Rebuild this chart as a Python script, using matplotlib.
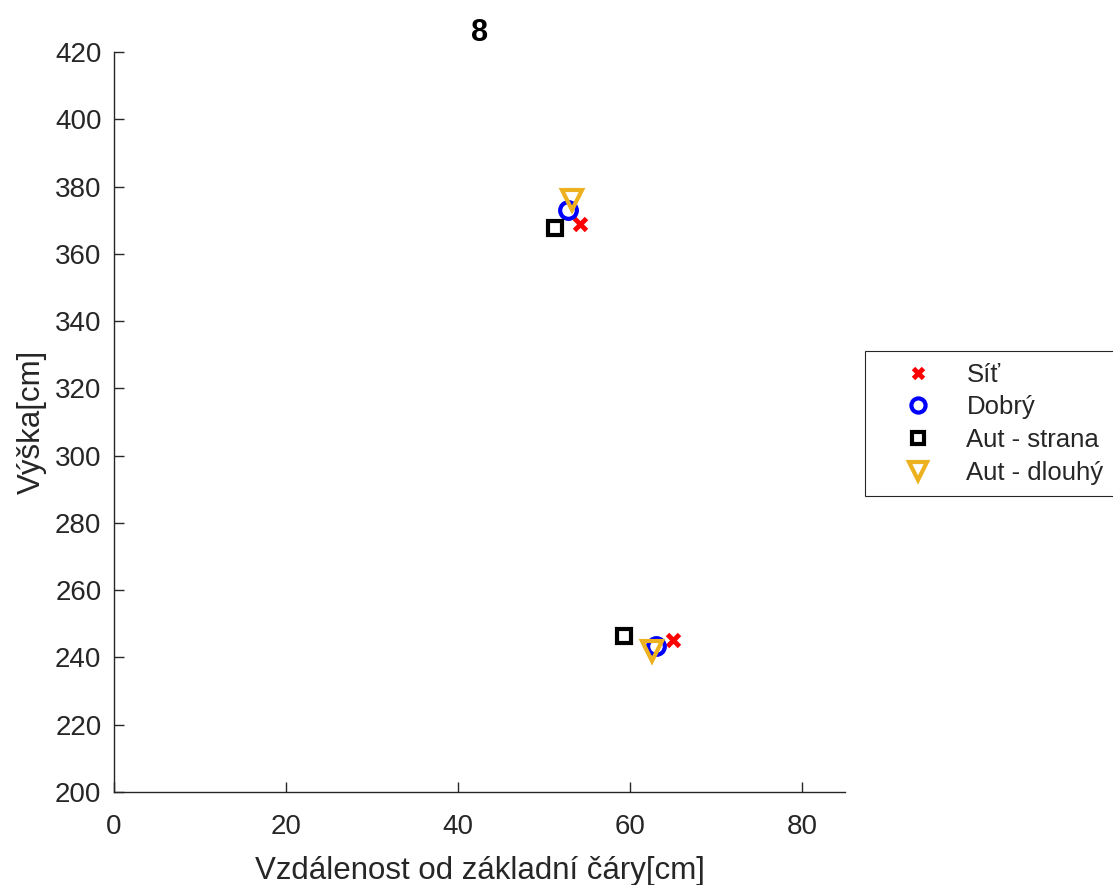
import matplotlib
matplotlib.use("Agg")
import matplotlib.pyplot as plt

plt.rcParams['font.family'] = ['Liberation Sans', 'DejaVu Sans']

# --- data ---
labels = ["Síť", "Dobrý", "Aut - strana", "Aut - dlouhý"]
sit_x = [54.2, 65.0]
sit_y = [368.8, 245.3]
dobry_x = [52.8, 63.0]
dobry_y = [373.0, 243.3]
strana_x = [51.3, 59.3]
strana_y = [367.8, 246.3]
dlouhy_x = [53.2, 62.5]
dlouhy_y = [376.0, 242.0]

AX_COL = "#262626"
GOLD = "#EDB120"

fig = plt.figure(figsize=(11.13, 8.85), dpi=100)
ax = fig.add_axes([114 / 1113, 1 - 792 / 885, (845 - 114) / 1113, (792 - 52) / 885])

ax.plot(sit_x, sit_y, ls="none", marker="x", color="red", ms=9, mew=3.5, label=labels[0])
ax.plot(dobry_x, dobry_y, ls="none", marker="o", mfc="none", mec="blue", ms=12, mew=3, label=labels[1])
ax.plot(strana_x, strana_y, ls="none", marker="s", mfc="none", mec="black", ms=10, mew=3, label=labels[2])
ax.plot(dlouhy_x, dlouhy_y, ls="none", marker="v", mfc="none", mec=GOLD, ms=15, mew=3, label=labels[3])

ax.set_xlim(0, 85)
ax.set_ylim(200, 420)
ax.set_xticks([0, 20, 40, 60, 80])
ax.set_yticks(range(200, 421, 20))

for s in ["top", "right"]:
    ax.spines[s].set_visible(False)
for s in ["left", "bottom"]:
    ax.spines[s].set_color(AX_COL)
    ax.spines[s].set_linewidth(1.0)
ax.tick_params(direction="in", length=7, width=1, colors=AX_COL, labelsize=20, pad=9)
ax.tick_params(axis="x", pad=16)

ax.set_xlabel("Vzdálenost od základní čáry[cm]", fontsize=22.5, color=AX_COL, labelpad=11)
ax.set_ylabel("Výška[cm]", fontsize=22.5, color=AX_COL, labelpad=6)
ax.set_title("8", fontsize=22, fontweight="bold", color="black", pad=8)

leg = fig.legend(loc="upper left", bbox_to_anchor=(865 / 1113, 1 - 351 / 885),
                 fontsize=18.5, frameon=True, fancybox=False, borderpad=0.45,
                 handletextpad=0.3, labelspacing=0.34, borderaxespad=0,
                 handlelength=3.2, markerscale=0.85)
leg.get_frame().set_edgecolor("#262626")
leg.get_frame().set_linewidth(0.8)
leg.get_frame().set_alpha(1)
for t in leg.get_texts():
    t.set_color(AX_COL)

fig.savefig("out.png", dpi=100)
